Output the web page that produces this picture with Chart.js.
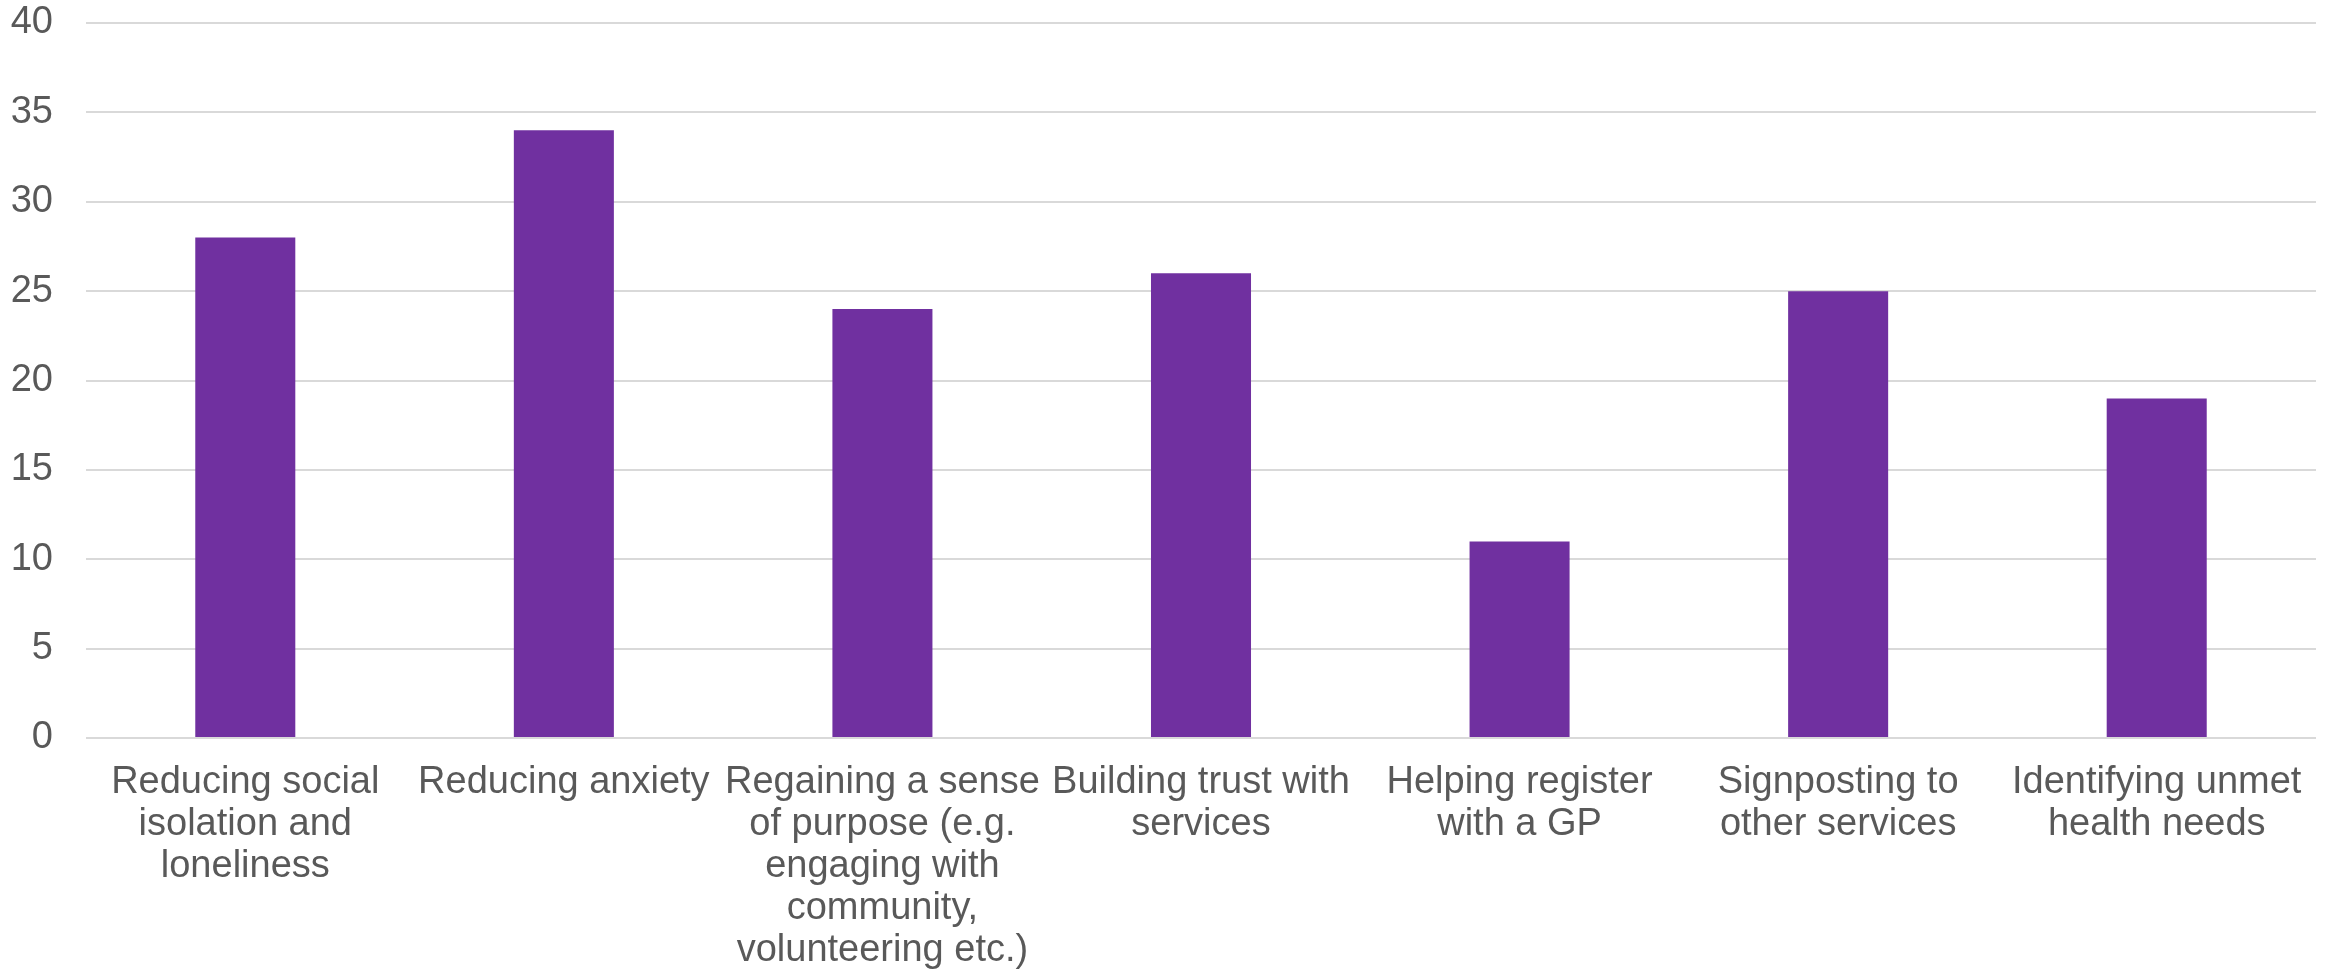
<!DOCTYPE html>
<html>
<head>
<meta charset="utf-8">
<script src="https://cdn.jsdelivr.net/npm/chart.js@4/dist/chart.umd.min.js"></script>
<style>
	html, body { margin: 0; padding: 0; background: #fff; }
	#wrap { width: 2328px; height: 974px; }
</style>
</head>
<body>
<div id="wrap"><canvas id="benefitsChart" width="2328" height="974"></canvas></div>
<script>
const categories = [
	["Reducing social", "isolation and", "loneliness"],
	["Reducing anxiety"],
	["Regaining a sense", "of purpose (e.g.", "engaging with", "community,", "volunteering etc.)"],
	["Building trust with", "services"],
	["Helping register", "with a GP"],
	["Signposting to", "other services"],
	["Identifying unmet", "health needs"],
];
const counts = [28, 34, 24, 26, 11, 25, 19];
const yTicks = [0, 5, 10, 15, 20, 25, 30, 35, 40];

const textColor = "#595959";
const fontFamily = "'Liberation Sans', Arial, sans-serif";

const ctx = document.getElementById("benefitsChart").getContext("2d");
new Chart(ctx, {
	type: "bar",
	data: {
		labels: categories,
		datasets: [
			{
				label: "Count",
				data: counts,
				backgroundColor: "#7030A0",
				borderWidth: 0,
				categoryPercentage: 1,
				barPercentage: 0.314,
			},
		],
	},
	options: {
		responsive: false,
		animation: false,
		layout: { padding: { top: 23, right: 12, bottom: 0, left: 0 } },
		plugins: {
			legend: { display: false },
			title: { display: false },
			tooltip: { enabled: false },
		},
		scales: {
			x: {
				grid: { display: false, drawTicks: false },
				border: { display: false },
				ticks: {
					color: textColor,
					autoSkip: false,
					maxRotation: 0,
					minRotation: 0,
					padding: 24,
					font: { family: fontFamily, size: 38, lineHeight: 1.1 },
				},
				afterFit: (scale) => {
					scale.height = 236;
					scale.paddingLeft = 0;
					scale.paddingRight = 0;
				},
			},
			y: {
				min: 0,
				max: 40,
				afterBuildTicks: (scale) => { scale.ticks = yTicks.map((v) => ({ value: v })); },
				grid: { color: "#d9d9d9", lineWidth: 2, drawTicks: false },
				border: { display: false },
				ticks: {
					color: textColor,
					padding: 33,
					font: { family: fontFamily, size: 38 },
				},
				afterFit: (scale) => {
					scale.width = 86;
					scale.paddingTop = 0;
					scale.paddingBottom = 0;
				},
			},
		},
	},
});
</script>
</body>
</html>
